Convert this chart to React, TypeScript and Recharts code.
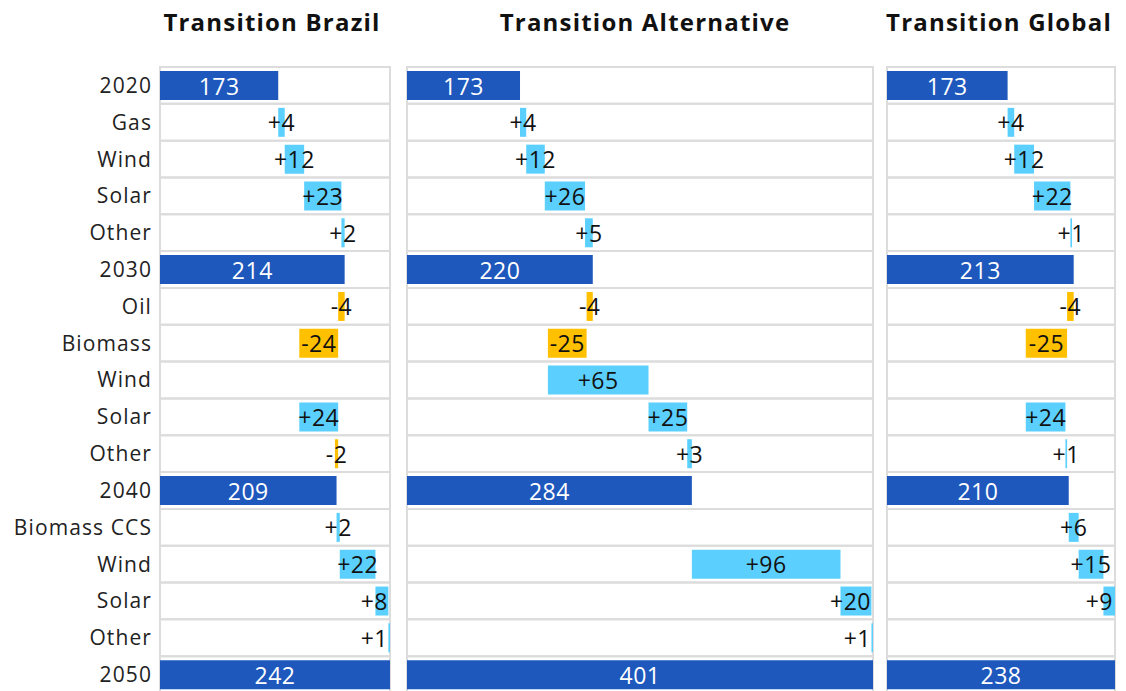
import React from 'react'
import { BarChart, Bar, XAxis, YAxis, Cell, LabelList, ReferenceArea } from 'recharts'

const rowLabels = [
  '2020', 'Gas', 'Wind', 'Solar', 'Other',
  '2030', 'Oil', 'Biomass', 'Wind', 'Solar', 'Other',
  '2040', 'Biomass CCS', 'Wind', 'Solar', 'Other',
  '2050',
]

// year rows are totals, the rest are changes (null = no change shown)
const brazilValues = [173, 4, 12, 23, 2, 214, -4, -24, null, 24, -2, 209, 2, 22, 8, 1, 242]
const alternativeValues = [173, 4, 12, 26, 5, 220, -4, -25, 65, 25, 3, 284, null, 96, 20, 1, 401]
const globalValues = [173, 4, 12, 22, 1, 213, -4, -25, null, 24, 1, 210, 6, 15, 9, null, 238]

const panelTitles = ['Transition Brazil', 'Transition Alternative', 'Transition Global']

const AXIS_MIN = 100
const TOTAL_COLOR = '#1e58bd'
const UP_COLOR = '#5bd0ff'
const DOWN_COLOR = '#ffc000'
const BORDER = '#dcdcdc'
const FONT = '"Open Sans", sans-serif'

type Row = {
  id: string
  name: string
  range: [number, number]
  kind: 'total' | 'up' | 'down' | 'none'
  totalLabel: string
  deltaLabel: string
}

function buildRows(values: (number | null)[]): Row[] {
  let running = 0
  return values.map((v, i) => {
    const id = `r${i}`
    const name = rowLabels[i]
    if (/^\d{4}$/.test(name)) {
      running = v as number
      return { id, name, range: [AXIS_MIN, v as number], kind: 'total', totalLabel: String(v), deltaLabel: '' }
    }
    if (v == null) {
      return { id, name, range: [running, running], kind: 'none', totalLabel: '', deltaLabel: '' }
    }
    const start = running
    running += v
    return {
      id,
      name,
      range: [Math.min(start, running), Math.max(start, running)],
      kind: v >= 0 ? 'up' : 'down',
      totalLabel: '',
      deltaLabel: v >= 0 ? `+${v}` : `-${Math.abs(v)}`,
    }
  })
}

const colorFor = (kind: Row['kind']) =>
  kind === 'total' ? TOTAL_COLOR : kind === 'up' ? UP_COLOR : kind === 'down' ? DOWN_COLOR : 'transparent'

const makeLabel = (fill: string, plotRight: number) => (props: any) => {
  const vb = props.viewBox ?? props
  const text = props.value
  if (!text) return null
  const left = Math.min(vb.x, vb.x + vb.width)
  const w = Math.abs(vb.width)
  const cy = vb.y + vb.height / 2
  let x = left + w / 2
  let anchor: 'middle' | 'end' = 'middle'
  const est = String(text).length * 13.5
  if (x + est / 2 > plotRight) {
    x = plotRight - 2
    anchor = 'end'
  }
  return (
    <text
      x={x}
      y={cy}
      textAnchor={anchor}
      dominantBaseline="central"
      fontSize={23}
      letterSpacing={0.5}
      fill={fill}
      fontFamily={FONT}
    >
      {text}
    </text>
  )
}

function Panel({
  values, left, width, axisWidth,
}: { values: (number | null)[]; left: number; width: number; axisWidth: number }) {
  const rows = buildRows(values)
  const max = Math.max(...rows.filter((r) => r.kind === 'total').map((r) => r.range[1]))
  const margin = { top: 2, bottom: 2, left: axisWidth ? 0 : 2, right: 2 }
  const plotRight = width - margin.right
  return (
    <div style={{ position: 'absolute', left, top: 65 }}>
      <BarChart width={width} height={630} data={rows} layout="vertical" margin={margin} barSize={29}>
        <XAxis type="number" domain={[AXIS_MIN, max]} allowDataOverflow hide />
        <YAxis
          type="category"
          dataKey="id"
          width={axisWidth || 0}
          hide={!axisWidth}
          interval={0}
          tickLine={false}
          axisLine={false}
          tickFormatter={(id: string) => rows.find((r) => r.id === id)?.name ?? ''}
          tick={{ fontSize: 21, fill: '#222', fontFamily: FONT, letterSpacing: 1.1 }}
        />
        {rows.map((r) => (
          <ReferenceArea key={r.id} y1={r.id} y2={r.id} fill="none" stroke={BORDER} strokeWidth={2} />
        ))}
        <Bar dataKey="range" isAnimationActive={false}>
          {rows.map((r) => (
            <Cell key={r.id} fill={colorFor(r.kind)} />
          ))}
          <LabelList dataKey="totalLabel" content={makeLabel('#ffffff', plotRight)} />
          <LabelList dataKey="deltaLabel" content={makeLabel('#111111', plotRight)} />
        </Bar>
      </BarChart>
    </div>
  )
}

const titleCenters = [272, 645, 999]

export default function App() {
  return (
    <div style={{ position: 'fixed', left: 0, top: 0, width: 1126, height: 691, overflow: 'hidden', background: '#fff' }}>
      {panelTitles.map((t, i) => (
        <div
          key={t}
          style={{
            position: 'absolute',
            left: titleCenters[i] - 200,
            width: 400,
            top: 5,
            textAlign: 'center',
            fontFamily: FONT,
            fontWeight: 700,
            fontSize: 24,
            letterSpacing: 1.2,
            color: '#111',
          }}
        >
          {t}
        </div>
      ))}
      <Panel values={brazilValues} left={0} width={392} axisWidth={160} />
      <Panel values={alternativeValues} left={405} width={470} axisWidth={0} />
      <Panel values={globalValues} left={885} width={232} axisWidth={0} />
    </div>
  )
}
